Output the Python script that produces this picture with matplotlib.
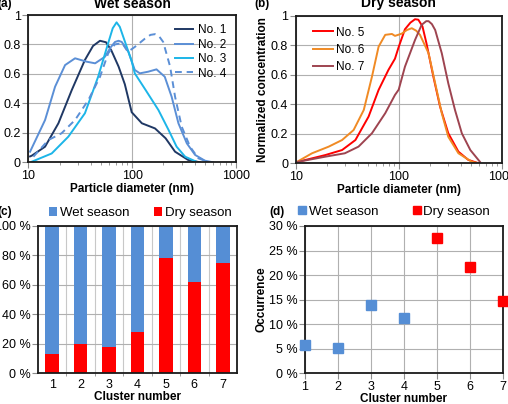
import numpy as np
import matplotlib
matplotlib.use("Agg")
import matplotlib.pyplot as plt
from matplotlib.ticker import FixedLocator, NullFormatter

plt.rcParams['font.family'] = ['Liberation Sans', 'DejaVu Sans']

# Panel (a): wet season size distributions (diameter nm, normalized concentration)
d1 = [10.4, 10.8, 14.5, 19.5, 26.2, 35.1, 42, 49, 56, 63, 74, 85, 99, 124, 166, 210, 259, 346, 450]
c1 = [0.04, 0.045, 0.106, 0.265, 0.49, 0.695, 0.79, 0.825, 0.815, 0.76, 0.65, 0.53, 0.34, 0.265, 0.23, 0.163, 0.072, 0.016, 0.0]
d2 = [10.4, 14.5, 18.1, 22.6, 28.2, 36.5, 44, 54.8, 62, 68.4, 74, 79.4, 92, 106, 118.6, 142.6, 171.6, 206, 240, 279, 336, 404, 502, 600]
c2 = [0.072, 0.287, 0.513, 0.66, 0.706, 0.683, 0.672, 0.717, 0.78, 0.817, 0.825, 0.817, 0.75, 0.627, 0.604, 0.615, 0.631, 0.581, 0.445, 0.265, 0.129, 0.05, 0.011, 0.0]
d3 = [10.8, 16.8, 24.3, 35.1, 47, 58.7, 65, 70.8, 76, 82, 98.6, 106, 135, 179, 224, 268, 324, 415]
c3 = [0.004, 0.06, 0.174, 0.333, 0.58, 0.808, 0.91, 0.95, 0.92, 0.853, 0.69, 0.604, 0.49, 0.355, 0.22, 0.106, 0.038, 0.004]
d4 = [11.2, 15.6, 20.9, 28.2, 37.9, 49, 58.8, 68, 80, 91, 106, 133, 150, 166, 182, 199, 232, 259, 300, 361, 434, 550]
c4 = [0.038, 0.151, 0.197, 0.287, 0.423, 0.58, 0.74, 0.8, 0.81, 0.75, 0.783, 0.84, 0.865, 0.87, 0.855, 0.817, 0.65, 0.445, 0.242, 0.106, 0.027, 0.0]

# Panel (b): dry season size distributions
d5 = [10.5, 19.4, 28.2, 38, 51, 63.8, 79.5, 92, 100, 115, 130, 144, 155, 170, 186, 217, 252, 303, 380, 474, 600]
c5 = [0.01, 0.056, 0.09, 0.158, 0.317, 0.498, 0.634, 0.71, 0.79, 0.91, 0.955, 0.978, 0.975, 0.93, 0.815, 0.588, 0.385, 0.204, 0.079, 0.023, 0.0]
d6 = [10.3, 14.4, 20.9, 28.2, 36.5, 45.8, 55, 63.8, 74, 86, 92, 107, 120, 134, 148, 161, 195, 226, 262, 303, 380, 514, 600]
c6 = [0.01, 0.068, 0.113, 0.158, 0.226, 0.362, 0.588, 0.792, 0.872, 0.878, 0.865, 0.88, 0.905, 0.917, 0.9, 0.872, 0.747, 0.543, 0.34, 0.18, 0.068, 0.01, 0.0]
d7 = [10.5, 19.4, 30, 40.7, 55, 74, 92, 100, 115, 144, 167, 185, 195, 210, 226, 262, 303, 352, 410, 496, 615]
c7 = [0.01, 0.045, 0.068, 0.113, 0.204, 0.34, 0.464, 0.5, 0.656, 0.837, 0.94, 0.965, 0.965, 0.945, 0.905, 0.747, 0.543, 0.362, 0.204, 0.09, 0.01]

# Panels (c) and (d)
clusters = [1, 2, 3, 4, 5, 6, 7]
dry_share = [13, 20, 18, 28, 78, 62, 75]
wet_share = [100 - v for v in dry_share]
wet_clusters = [1, 2, 3, 4]
wet_occ = [5.7, 5.2, 14.0, 11.2]
dry_clusters = [5, 6, 7]
dry_occ = [27.6, 21.6, 14.8]

W, H = 508, 404
fig = plt.figure(figsize=(W / 100, H / 100), dpi=100)

def px_axes(l, t, r, b):
    return fig.add_axes([l / W, 1 - b / H, (r - l) / W, (b - t) / H])

TICK_FS = 9
LAB_FS = 8.5
BLUE = '#558ED5'
RED = '#FF0000'

def style(ax):
    for s in ax.spines.values():
        s.set_linewidth(1.3)
        s.set_color('#1a1a1a')
    ax.tick_params(labelsize=TICK_FS, length=4, width=0.8, color='#8c8c8c', pad=1.5)
    ax.tick_params(which='minor', length=2.5, width=0.6, color='#8c8c8c')
    ax.set_axisbelow(True)

def size_axes(ax):
    ax.set_xscale('log')
    ax.set_xlim(10, 1000)
    ax.set_ylim(0, 1)
    ax.set_yticks([0, 0.2, 0.4, 0.6, 0.8, 1])
    ax.set_yticklabels(['0', '0.2', '0.4', '0.6', '0.8', '1'])
    ax.set_xticks([10, 100, 1000])
    ax.set_xticklabels(['10', '100', '1000'])
    ax.xaxis.set_minor_locator(FixedLocator([k * 10 ** e for e in (1, 2) for k in range(2, 10)]))
    ax.xaxis.set_minor_formatter(NullFormatter())
    ax.grid(True, which='major', color='#b0b0b0', linewidth=0.8)
    ax.set_xlabel('Particle diameter (nm)', fontsize=LAB_FS, fontweight='bold', labelpad=1)
    style(ax)

# (a)
ax = px_axes(28.3, 15, 236, 162.3)
ax.plot(d1, c1, color='#1F3864', lw=1.4, label='No. 1')
ax.plot(d2, c2, color='#5B8FD6', lw=1.4, label='No. 2')
ax.plot(d3, c3, color='#1CB5E8', lw=1.4, label='No. 3')
ax.plot(d4, c4, color='#5B8FD6', lw=1.4, ls=(0, (3.5, 2.5)), label='No. 4')
size_axes(ax)
ax.legend(loc='upper right', fontsize=8.5, frameon=False, handlelength=1.6,
          handletextpad=0.4, labelspacing=0.2, borderaxespad=0.4)
fig.text(132 / W, 1 - 7.5 / H, 'Wet season', fontsize=10, fontweight='bold', ha='center', va='baseline')
fig.text(-3 / W, 1 - 7.5 / H, '(a)', fontsize=8.5, fontweight='bold', va='baseline')

# (b)
ax = px_axes(295.7, 16, 501.7, 163.3)
ax.plot(d5, c5, color='#FF0000', lw=1.4, label='No. 5')
ax.plot(d6, c6, color='#F08A24', lw=1.4, label='No. 6')
ax.plot(d7, c7, color='#9E4450', lw=1.4, label='No. 7')
size_axes(ax)
ax.set_ylabel('Normalized concentration', fontsize=LAB_FS, fontweight='bold', labelpad=1)
ax.legend(loc='upper left', fontsize=8.5, frameon=False, handlelength=1.7,
          handletextpad=0.3, labelspacing=0.45, borderaxespad=0.5, bbox_to_anchor=(0.03, 1))
fig.text(398 / W, 1 - 7.5 / H, 'Dry season', fontsize=10, fontweight='bold', ha='center', va='baseline')
fig.text(254 / W, 1 - 7.5 / H, '(b)', fontsize=8.5, fontweight='bold', va='baseline')

# (c)
ax = px_axes(38, 226, 237, 373.3)
ax.bar(clusters, dry_share, width=0.48, color=RED, label='Dry season', zorder=2)
ax.bar(clusters, wet_share, width=0.48, bottom=dry_share, color=BLUE, label='Wet season', zorder=2)
ax.set_xlim(0.5, 7.5)
ax.set_ylim(0, 100)
ax.set_yticks(range(0, 101, 20))
ax.set_yticklabels([f'{v} %' for v in range(0, 101, 20)])
ax.set_xticks(clusters)
ax.xaxis.set_minor_locator(FixedLocator([c + 0.5 for c in clusters[:-1]]))
ax.grid(True, axis='y', color='#b0b0b0', linewidth=0.8)
ax.grid(True, axis='x', which='minor', color='#c8c8c8', linewidth=0.8)
style(ax)
ax.tick_params(axis='x', which='major', length=0, pad=4)
ax.set_xlabel('Cluster number', fontsize=LAB_FS, fontweight='bold', labelpad=0)
h, l = ax.get_legend_handles_labels()
ax.legend(h[::-1], l[::-1], loc='lower center', bbox_to_anchor=(0.515, 1.01), ncol=2,
          fontsize=9.5, frameon=False, handlelength=0.6, handleheight=0.6,
          handletextpad=0.2, columnspacing=1.9, borderaxespad=0)
fig.text(-3 / W, 1 - 215 / H, '(c)', fontsize=8.5, fontweight='bold', va='baseline')

# (d)
ax = px_axes(305, 226, 503, 373.3)
ax.plot(wet_clusters, wet_occ, 's', color=BLUE, ms=7.5, label='Wet season', clip_on=False, zorder=3)
ax.plot(dry_clusters, dry_occ, 's', color=RED, ms=7.5, label='Dry season', clip_on=False, zorder=3)
ax.set_xlim(1, 7)
ax.set_ylim(0, 30)
ax.set_xticks(clusters)
ax.set_yticks(range(0, 31, 5))
ax.set_yticklabels([f'{v} %' for v in range(0, 31, 5)])
ax.grid(True, color='#b0b0b0', linewidth=0.8)
ax.set_xlabel('Cluster number', fontsize=LAB_FS, fontweight='bold', labelpad=0)
ax.set_ylabel('Occurrence', fontsize=LAB_FS, fontweight='bold', labelpad=1)
style(ax)
ax.legend(loc='lower center', bbox_to_anchor=(0.45, 1.02), ncol=2, numpoints=1,
          fontsize=9.5, frameon=False, handlelength=0.6, markerscale=0.8,
          handletextpad=0.2, columnspacing=2.6, borderaxespad=0)
fig.text(269 / W, 1 - 215 / H, '(d)', fontsize=8.5, fontweight='bold', va='baseline')

fig.savefig('out.png', dpi=100)
